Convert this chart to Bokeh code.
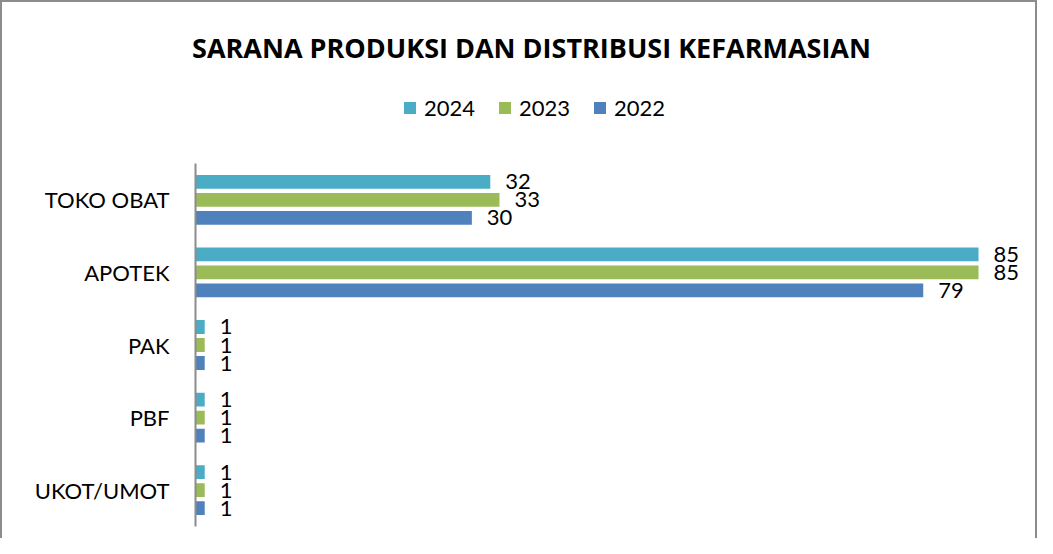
from bokeh.plotting import figure
from bokeh.models import Range1d, Label, Legend, LegendItem, ColumnDataSource, FixedTicker
from bokeh.transform import dodge
from bokeh.core.properties import value
from bokeh.embed import file_html
from bokeh.resources import INLINE

categories = ["TOKO OBAT", "APOTEK", "PAK", "PBF", "UKOT/UMOT"]
series_names = ["2024", "2023", "2022"]
v2024 = [32, 85, 1, 1, 1]
v2023 = [33, 85, 1, 1, 1]
v2022 = [30, 79, 1, 1, 1]
colors = ["#4BACC6", "#9BBB59", "#4F81BD"]
title_text = "SARANA PRODUKSI DAN DISTRIBUSI KEFARMASIAN"

FONT = "Lato"

# layout (canvas pixels; the canvas sits 2px right/down because of the css border)
W, H = 1037, 538
CW, CH = W, H
AXIS_X = 193                                  # zero line position in canvas px
PX_PER_UNIT = 9.212
AXIS_TOP, AXIS_BOTTOM = 161, 524              # category axis extent in canvas px
n = len(categories)
PX_PER_CAT = (AXIS_BOTTOM - AXIS_TOP) / n

x_start = -AXIS_X / PX_PER_UNIT
x_end = (CW - AXIS_X) / PX_PER_UNIT
y_top = (n - 0.5) + AXIS_TOP / PX_PER_CAT
y_bottom = -0.5 - (CH - AXIS_BOTTOM) / PX_PER_CAT

ypos = [n - 1 - i for i in range(n)]

src = ColumnDataSource(dict(
    y=ypos,
    v2024=v2024, v2023=v2023, v2022=v2022,
    t2024=[str(v) for v in v2024],
    t2023=[str(v) for v in v2023],
    t2022=[str(v) for v in v2022],
))

p = figure(
    width=W, height=H, title=None,
    x_range=Range1d(x_start, x_end), y_range=Range1d(y_bottom, y_top),
    output_backend="svg", toolbar_location=None,
    min_border=0,
)
p.styles = {"border-left": "2px solid #8c8c8c", "border-top": "2px solid #8c8c8c",
            "border-right": "2px solid #8c8c8c", "box-sizing": "border-box"}

offsets = [0.248, 0.0, -0.248]
renderers = []
for name, col, off in zip(series_names, colors, offsets):
    r = p.hbar(y=dodge("y", off), right="v" + name, left=0,
               height=0.19, source=src, fill_color=col, line_color=None)
    renderers.append(r)
    p.text(x="v" + name, y=dodge("y", off), text="t" + name,
           source=src, x_offset=15, text_baseline="middle", text_align="left",
           text_font=value(FONT), text_font_size="22px", text_color="black")

p.xaxis.visible = False
p.xgrid.visible = False
p.ygrid.visible = False
p.outline_line_color = None
ya = p.yaxis[0]
ya.fixed_location = 0
ya.bounds = (-0.5, n - 0.5)
ya.ticker = FixedTicker(ticks=ypos)
ya.major_label_overrides = {yv: c for yv, c in zip(ypos, categories)}
ya.axis_line_color = "#8c8c8c"
ya.axis_line_width = 2
ya.major_tick_line_color = None
ya.minor_tick_line_color = None
ya.major_label_standoff = 20
ya.major_label_text_font = FONT
ya.major_label_text_font_size = "22px"
ya.major_label_text_color = "black"

legend = Legend(items=[LegendItem(label=s, renderers=[r]) for s, r in zip(series_names, renderers)],
                orientation="horizontal", location=(400, CH - 119),
                glyph_width=15, glyph_height=15, label_standoff=7, spacing=22,
                padding=0, margin=0, border_line_color=None, background_fill_alpha=0,
                label_text_font=FONT, label_text_font_size="22px", label_height=15,
                label_text_baseline="middle", label_text_color="black")
p.add_layout(legend, "center")

title_x = x_start + 529 / PX_PER_UNIT
title_y = y_top - 45 / PX_PER_CAT
p.add_layout(Label(x=title_x, y=title_y, text=title_text,
                   text_align="center", text_baseline="middle", text_font="Open Sans",
                   text_font_style="bold", text_font_size="27px", text_color="black"))

open("out.html", "w").write(file_html(p, INLINE))
